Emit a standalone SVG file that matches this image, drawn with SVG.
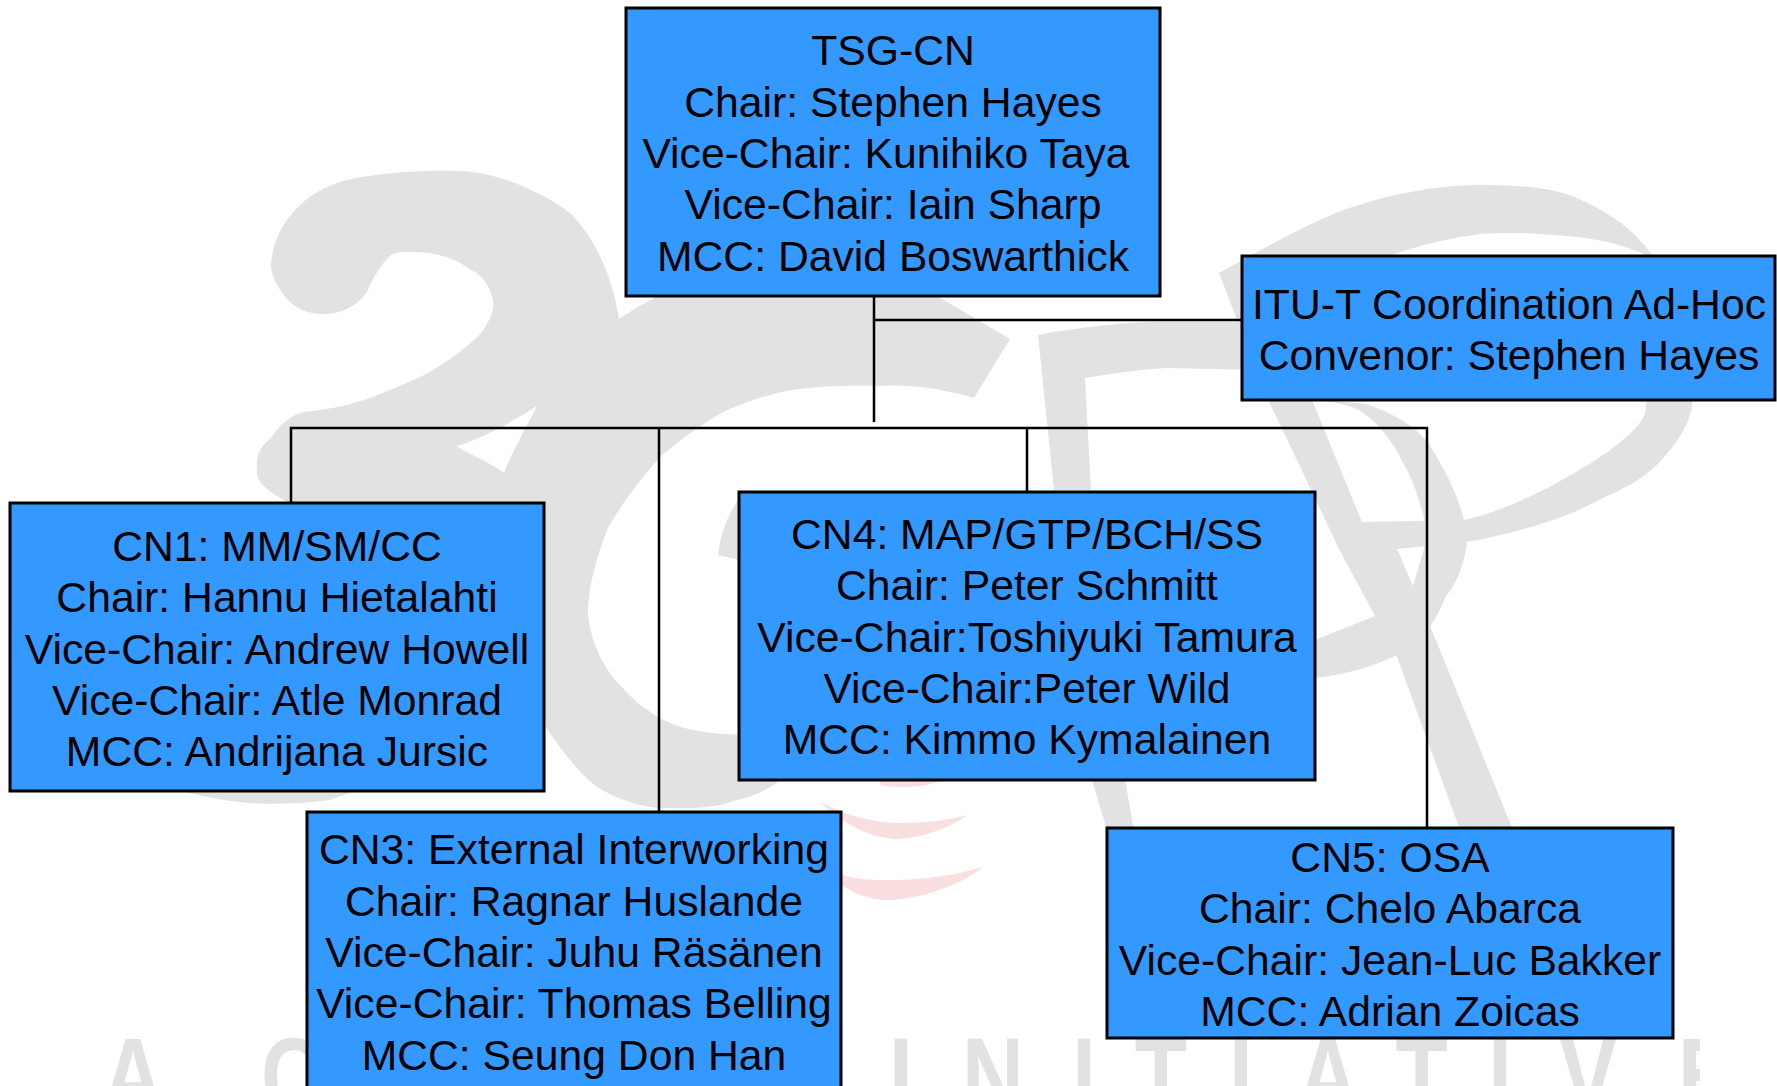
<svg xmlns="http://www.w3.org/2000/svg" width="1777" height="1086" viewBox="0 0 1777 1086">
<style>
.wm{fill:#e2e2e2}
.pk{fill:#f9dfdf}
.wt{font-family:"Liberation Sans",Arial,sans-serif;font-weight:bold;font-size:107px;fill:#e2e2e2;text-anchor:middle}
.box{fill:#3399ff;stroke:#000;stroke-width:3}
.t{font-family:"Liberation Sans",Arial,sans-serif;font-size:42.7px;fill:#000;text-anchor:middle}
.c{fill:none;stroke:#000;stroke-width:2.5}
</style>
<defs><clipPath id="ec"><rect x="1640" y="1000" width="60" height="86"/></clipPath></defs>
<rect width="1777" height="1086" fill="#fff"/>
<g id="watermark">
<path class="wm" fill-rule="evenodd" d="M459 171C500 172 545 194 570 213C590 232 612 270 619 319C640 305 655 297 672 290L937 296L1010 339L974 398C945 390 915 384 880 386C850 385 815 386 792 390C765 395 745 402 723 412C700 425 680 440 660 457C635 485 618 510 608 528C595 560 588 590 588 613C590 640 603 668 620 685C640 708 665 724 689 729C705 733 725 735 740 734L780 735L780 780C765 792 750 797 737 800C720 806 705 808 687 808L657 808C635 805 615 798 597 787C575 770 558 745 543 723L330 800C290 805 240 808 180 790L287 502C265 490 255 480 257 470C255 455 262 445 270 439C280 425 290 415 304 412C325 410 345 406 367 399C390 390 410 382 430 372C450 360 470 345 482 332C490 320 495 310 493 301C490 285 482 275 471 270C455 258 435 252 413 252C400 252 394 252 390 256C380 265 372 280 367 292C355 308 340 314 324 314C308 314 295 308 287 299C276 285 271 275 271 265C272 240 285 220 298 207C315 190 335 182 356 178C390 172 425 170 459 171ZM456 446C480 440 515 420 537 406C525 430 512 452 504 473C490 462 470 455 456 446Z"/>
<path class="wm" d="M718 555C720 535 728 512 745 490L760 565Z"/>
<path class="wm" d="M1038 335C1085 326 1130 322 1156 322L1260 322L1260 370L1166 368C1135 370 1110 374 1085 378L1091 490L1092 780L1107 830L1134 830L1125 780L1091 490L1054 490Z"/>
<path id="ring" class="wm" d="M1219 273C1260 250 1300 228 1338 212C1390 193 1440 185 1481 185C1520 185 1550 188 1572 196C1610 212 1630 228 1646 247C1680 290 1695 340 1692 408C1688 425 1678 442 1664 457C1645 480 1620 490 1595 502C1565 518 1535 526 1509 533C1495 536 1480 540 1466 542L1397 549L1339 549L1362 522L1463 520C1490 515 1525 500 1555 484C1580 470 1605 455 1618 444C1635 430 1645 420 1646 408L1650 330L1644 254C1620 244 1595 238 1567 236C1535 233 1510 232 1480 234C1450 238 1420 245 1389 256L1300 300L1300 400Z"/>
<path id="leg" class="wm" d="M1219 273L1268 400L1286 437L1339 549L1375 616L1397 657L1460 830L1513 830L1431 628L1413 586L1397 549L1362 522L1312 400L1260 262Z"/>
<path id="bowl" class="wm" d="M1321 400C1335 402 1350 405 1362 412C1378 423 1392 440 1402 461C1412 478 1418 495 1424 518L1424 549L1413 586L1429 628C1435 620 1440 610 1446 596C1455 585 1462 570 1466 550C1468 540 1466 530 1464 520C1458 495 1445 470 1429 444C1415 425 1390 412 1366 404Z"/>
<path class="wm" d="M1300 646L1375 616L1397 655C1370 668 1345 675 1300 680Z"/>
<path class="pk" d="M880 780L945 780C925 787 905 789 880 785Z"/>
<path class="pk" d="M820 802C845 815 870 822 897 823C925 823 950 820 968 815C945 830 920 838 897 839C870 838 845 825 820 802Z"/>
<path class="pk" d="M830 870C850 880 870 880 890 880C925 880 955 875 983 867C960 885 925 898 890 900C865 900 845 890 830 875Z"/>
<g transform="scale(.8 1)">
<text class="wt" x="166" y="1113">A</text>
<text class="wt" x="365" y="1113">C</text>
<text class="wt" x="1126 1241 1355 1451 1551 1660 1777 1875 1985" y="1113">INITIATIV</text>
</g>
<g clip-path="url(#ec)"><text class="wt" x="1707" y="1113" transform="translate(341 0) scale(.8 1)">E</text></g>
</g>
<g id="connectors">
<path class="c" d="M874 291V422M874 320H1241M291 503V428H1427V828M659 428V812M1027 428V492"/>
</g>
<g id="tsg-cn">
<rect class="box" x="626" y="8" width="534" height="288"/>
<text class="t" x="893" y="65">TSG-CN</text>
<text class="t" x="893" y="117">Chair: Stephen Hayes</text>
<text class="t" x="886" y="168">Vice-Chair: Kunihiko Taya</text>
<text class="t" x="893" y="219">Vice-Chair: Iain Sharp</text>
<text class="t" x="893" y="271">MCC: David Boswarthick</text>
</g>
<g id="itu-t">
<rect class="box" x="1242" y="256" width="533" height="144"/>
<text class="t" x="1509" y="319">ITU-T Coordination Ad-Hoc</text>
<text class="t" x="1509" y="370">Convenor: Stephen Hayes</text>
</g>
<g id="cn1">
<rect class="box" x="10" y="503" width="534" height="288"/>
<text class="t" x="277" y="561">CN1: MM/SM/CC</text>
<text class="t" x="277" y="612">Chair: Hannu Hietalahti</text>
<text class="t" x="277" y="664">Vice-Chair: Andrew Howell</text>
<text class="t" x="277" y="715">Vice-Chair: Atle Monrad</text>
<text class="t" x="277" y="766">MCC: Andrijana Jursic</text>
</g>
<g id="cn4">
<rect class="box" x="739" y="492" width="576" height="288"/>
<text class="t" x="1027" y="549">CN4: MAP/GTP/BCH/SS</text>
<text class="t" x="1027" y="600">Chair: Peter Schmitt</text>
<text class="t" x="1027" y="652">Vice-Chair:Toshiyuki Tamura</text>
<text class="t" x="1027" y="703">Vice-Chair:Peter Wild</text>
<text class="t" x="1027" y="754">MCC: Kimmo Kymalainen</text>
</g>
<g id="cn3">
<rect class="box" x="307" y="812" width="534" height="290"/>
<text class="t" x="574" y="864">CN3: External Interworking</text>
<text class="t" x="574" y="916">Chair: Ragnar Huslande</text>
<text class="t" x="574" y="967">Vice-Chair: Juhu Räsänen</text>
<text class="t" x="574" y="1018">Vice-Chair: Thomas Belling</text>
<text class="t" x="574" y="1070">MCC: Seung Don Han</text>
</g>
<g id="cn5">
<rect class="box" x="1107" y="828" width="566" height="210"/>
<text class="t" x="1390" y="872">CN5: OSA</text>
<text class="t" x="1390" y="923">Chair: Chelo Abarca</text>
<text class="t" x="1390" y="975">Vice-Chair: Jean-Luc Bakker</text>
<text class="t" x="1390" y="1026">MCC: Adrian Zoicas</text>
</g>
</svg>
